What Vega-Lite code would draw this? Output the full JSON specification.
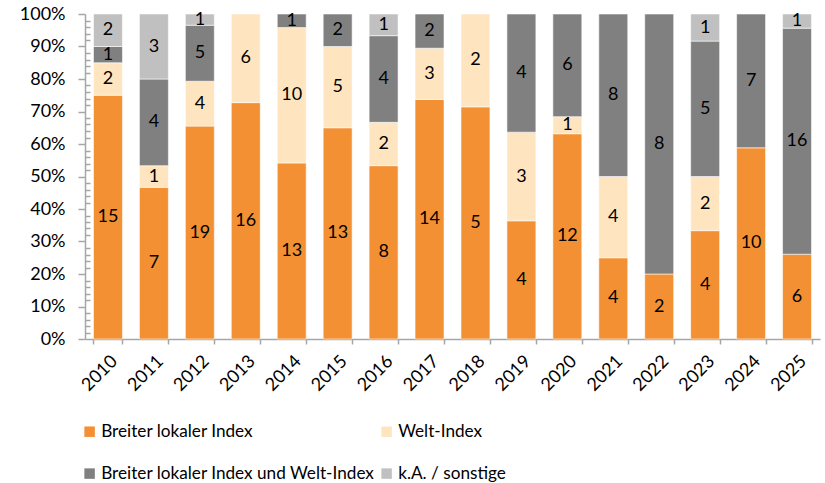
{
  "$schema": "https://vega.github.io/schema/vega-lite/v6.json",
  "width": 735,
  "height": 325,
  "autosize": {"type": "none"},
  "padding": {"left": 85, "top": 14, "right": 5, "bottom": 144},
  "background": "white",
  "config": {"view": {"stroke": null}, "font": "Lato"},
  "data": {
    "values": [
      {"year": "2010", "cat": "Breiter lokaler Index", "n": 15},
      {"year": "2010", "cat": "Welt-Index", "n": 2},
      {"year": "2010", "cat": "Breiter lokaler Index und Welt-Index", "n": 1},
      {"year": "2010", "cat": "k.A. / sonstige", "n": 2},
      {"year": "2011", "cat": "Breiter lokaler Index", "n": 7},
      {"year": "2011", "cat": "Welt-Index", "n": 1},
      {"year": "2011", "cat": "Breiter lokaler Index und Welt-Index", "n": 4},
      {"year": "2011", "cat": "k.A. / sonstige", "n": 3},
      {"year": "2012", "cat": "Breiter lokaler Index", "n": 19},
      {"year": "2012", "cat": "Welt-Index", "n": 4},
      {"year": "2012", "cat": "Breiter lokaler Index und Welt-Index", "n": 5},
      {"year": "2012", "cat": "k.A. / sonstige", "n": 1},
      {"year": "2013", "cat": "Breiter lokaler Index", "n": 16},
      {"year": "2013", "cat": "Welt-Index", "n": 6},
      {"year": "2014", "cat": "Breiter lokaler Index", "n": 13},
      {"year": "2014", "cat": "Welt-Index", "n": 10},
      {"year": "2014", "cat": "Breiter lokaler Index und Welt-Index", "n": 1},
      {"year": "2015", "cat": "Breiter lokaler Index", "n": 13},
      {"year": "2015", "cat": "Welt-Index", "n": 5},
      {"year": "2015", "cat": "Breiter lokaler Index und Welt-Index", "n": 2},
      {"year": "2016", "cat": "Breiter lokaler Index", "n": 8},
      {"year": "2016", "cat": "Welt-Index", "n": 2},
      {"year": "2016", "cat": "Breiter lokaler Index und Welt-Index", "n": 4},
      {"year": "2016", "cat": "k.A. / sonstige", "n": 1},
      {"year": "2017", "cat": "Breiter lokaler Index", "n": 14},
      {"year": "2017", "cat": "Welt-Index", "n": 3},
      {"year": "2017", "cat": "Breiter lokaler Index und Welt-Index", "n": 2},
      {"year": "2018", "cat": "Breiter lokaler Index", "n": 5},
      {"year": "2018", "cat": "Welt-Index", "n": 2},
      {"year": "2019", "cat": "Breiter lokaler Index", "n": 4},
      {"year": "2019", "cat": "Welt-Index", "n": 3},
      {"year": "2019", "cat": "Breiter lokaler Index und Welt-Index", "n": 4},
      {"year": "2020", "cat": "Breiter lokaler Index", "n": 12},
      {"year": "2020", "cat": "Welt-Index", "n": 1},
      {"year": "2020", "cat": "Breiter lokaler Index und Welt-Index", "n": 6},
      {"year": "2021", "cat": "Breiter lokaler Index", "n": 4},
      {"year": "2021", "cat": "Welt-Index", "n": 4},
      {"year": "2021", "cat": "Breiter lokaler Index und Welt-Index", "n": 8},
      {"year": "2022", "cat": "Breiter lokaler Index", "n": 2},
      {"year": "2022", "cat": "Breiter lokaler Index und Welt-Index", "n": 8},
      {"year": "2023", "cat": "Breiter lokaler Index", "n": 4},
      {"year": "2023", "cat": "Welt-Index", "n": 2},
      {"year": "2023", "cat": "Breiter lokaler Index und Welt-Index", "n": 5},
      {"year": "2023", "cat": "k.A. / sonstige", "n": 1},
      {"year": "2024", "cat": "Breiter lokaler Index", "n": 10},
      {"year": "2024", "cat": "Breiter lokaler Index und Welt-Index", "n": 7},
      {"year": "2025", "cat": "Breiter lokaler Index", "n": 6},
      {"year": "2025", "cat": "Breiter lokaler Index und Welt-Index", "n": 16},
      {"year": "2025", "cat": "k.A. / sonstige", "n": 1}
    ]
  },
  "transform": [
    {"calculate": "indexof(['Breiter lokaler Index','Welt-Index','Breiter lokaler Index und Welt-Index','k.A. / sonstige'], datum.cat)", "as": "k"},
    {"stack": "n", "groupby": ["year"], "sort": [{"field": "k", "order": "ascending"}], "offset": "normalize", "as": ["y0", "y1"]},
    {"calculate": "(datum.y0 + datum.y1) / 2", "as": "ym"}
  ],
  "encoding": {
    "x": {
      "field": "year",
      "type": "ordinal",
      "scale": {"paddingInner": 0.37, "paddingOuter": 0.185},
      "axis": {
        "title": null,
        "labelAngle": -45,
        "labelFontSize": 18,
        "labelColor": "black",
        "labelPadding": 8,
        "domainColor": "#A6A6A6",
        "domainWidth": 1.5,
        "tickColor": "#A6A6A6",
        "tickWidth": 1.5,
        "tickSize": 5,
        "tickBand": "extent"
      }
    }
  },
  "layer": [
    {
      "mark": {"type": "bar", "stroke": "white", "strokeWidth": 0.7, "strokeOpacity": 0.8},
      "encoding": {
        "y": {
          "field": "y0",
          "type": "quantitative",
          "scale": {"domain": [0, 1]},
          "axis": {
            "title": null,
            "grid": false,
            "tickCount": 100,
            "values": [0,0.02,0.04,0.06,0.08,0.1,0.12,0.14,0.16,0.18,0.2,0.22,0.24,0.26,0.28,0.3,0.32,0.34,0.36,0.38,0.4,0.42,0.44,0.46,0.48,0.5,0.52,0.54,0.56,0.58,0.6,0.62,0.64,0.66,0.68,0.7,0.72,0.74,0.76,0.78,0.8,0.82,0.84,0.86,0.88,0.9,0.92,0.94,0.96,0.98,1],
            "labelExpr": "abs(datum.value*10 - round(datum.value*10)) < 0.001 ? format(datum.value, '.0%') : ''",
            "labelOverlap": false,
            "tickSize": {"condition": {"test": "abs(datum.value*10 - round(datum.value*10)) < 0.001", "value": 7}, "value": -5},
            "labelFontSize": 18,
            "labelColor": "black",
            "labelPadding": 13,
            "domainColor": "#A6A6A6",
            "domainWidth": 1.5,
            "tickColor": "#A6A6A6",
            "tickWidth": 1.5
          }
        },
        "y2": {"field": "y1"},
        "color": {
          "field": "cat",
          "type": "nominal",
          "scale": {
            "domain": ["Breiter lokaler Index", "Welt-Index", "Breiter lokaler Index und Welt-Index", "k.A. / sonstige"],
            "range": ["#F39033", "#FFE5BF", "#808080", "#C0C0C0"]
          },
          "legend": {
            "title": null,
            "orient": "none",
            "legendX": -4,
            "legendY": 409,
            "direction": "horizontal",
            "columns": 2,
            "symbolType": "square",
            "symbolSize": 110,
            "symbolStrokeWidth": 0,
            "labelFontSize": 17.2,
            "labelColor": "black",
            "labelOffset": 3,
            "rowPadding": 24,
            "columnPadding": 3,
            "labelLimit": 400
          }
        }
      }
    },
    {
      "mark": {"type": "text", "fontSize": 18, "color": "black"},
      "encoding": {
        "y": {"field": "ym", "type": "quantitative"},
        "text": {"field": "n", "type": "quantitative"}
      }
    }
  ]
}
